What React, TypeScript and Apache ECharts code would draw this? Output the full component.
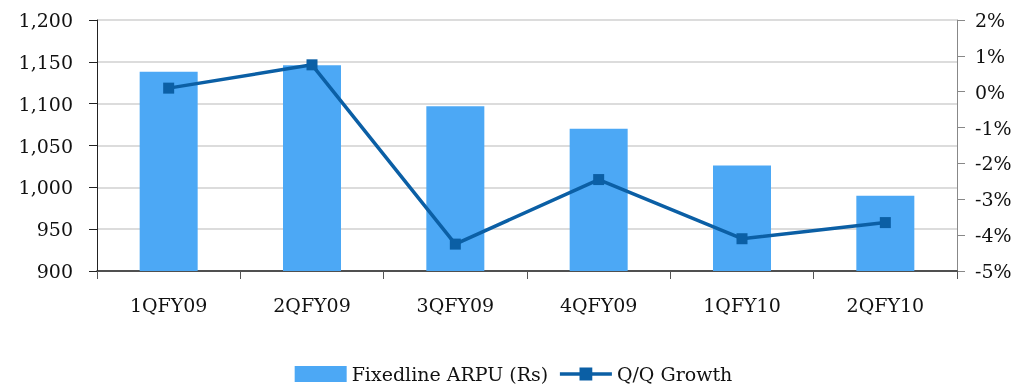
import React, { useEffect, useRef } from "react";
import * as echarts from "echarts";

const quarters = ["1QFY09", "2QFY09", "3QFY09", "4QFY09", "1QFY10", "2QFY10"];
const arpu = [1138, 1146, 1097, 1070, 1026, 990];
const qoqGrowth = [0.1, 0.75, -4.25, -2.45, -4.1, -3.65];

const FONT = "'DejaVu Serif', serif";
const LINE_COLOR = "#0B5FA5";

export default function App() {
  const ref = useRef<HTMLDivElement>(null);

  useEffect(() => {
    if (!ref.current) return;
    const chart = echarts.init(ref.current, null, { renderer: "svg" });
    chart.setOption({
      animation: false,
      grid: { left: 97, right: 70, top: 20, bottom: 114 },
      legend: {
        top: 364,
        left: "center",
        padding: 0,
        itemGap: 10,
        itemWidth: 52,
        itemHeight: 16,
        textStyle: { fontFamily: FONT, fontSize: 19, lineHeight: 20, color: "#111" },
        data: [
          { name: "Fixedline ARPU (Rs)", icon: "rect" },
          {
            name: "Q/Q Growth",
            lineStyle: { color: LINE_COLOR, width: 3.5 },
            itemStyle: { color: LINE_COLOR },
          },
        ],
      },
      xAxis: {
        type: "category",
        data: quarters,
        axisLine: { onZero: false, lineStyle: { color: "#222", width: 1.5 } },
        axisTick: { show: true, length: 8, lineStyle: { color: "#555" } },
        axisLabel: {
          fontFamily: FONT,
          fontSize: 19,
          color: "#111",
          margin: 24,
        },
      },
      yAxis: [
        {
          type: "value",
          min: 900,
          max: 1200,
          interval: 50,
          axisLine: { show: true, lineStyle: { color: "#222" } },
          axisTick: { show: true, length: 8, lineStyle: { color: "#222" } },
          splitLine: { lineStyle: { color: "#d0d0d0", width: 1.5 } },
          axisLabel: {
            fontFamily: FONT,
            fontSize: 19,
            color: "#111",
            margin: 24,
            formatter: (v: number) => v.toLocaleString("en-US"),
          },
        },
        {
          type: "value",
          min: -5,
          max: 2,
          interval: 1,
          position: "right",
          axisLine: { show: true, lineStyle: { color: "#888" } },
          axisTick: { show: true, length: 8, lineStyle: { color: "#888" } },
          splitLine: { show: false },
          axisLabel: {
            fontFamily: FONT,
            fontSize: 19,
            color: "#111",
            margin: 18,
            formatter: (v: number) => `${v}%`,
          },
        },
      ],
      series: [
        {
          name: "Fixedline ARPU (Rs)",
          type: "bar",
          data: arpu,
          barWidth: 58,
          itemStyle: { color: "#4CA8F5" },
        },
        {
          name: "Q/Q Growth",
          type: "line",
          yAxisIndex: 1,
          data: qoqGrowth,
          symbol: "rect",
          symbolSize: 11,
          lineStyle: { color: LINE_COLOR, width: 3.5 },
          itemStyle: { color: LINE_COLOR },
        },
      ],
    });
    return () => chart.dispose();
  }, []);

  return (
    <div
      ref={ref}
      style={{ position: "fixed", left: 0, top: 0, width: 1027, height: 385 }}
    />
  );
}
